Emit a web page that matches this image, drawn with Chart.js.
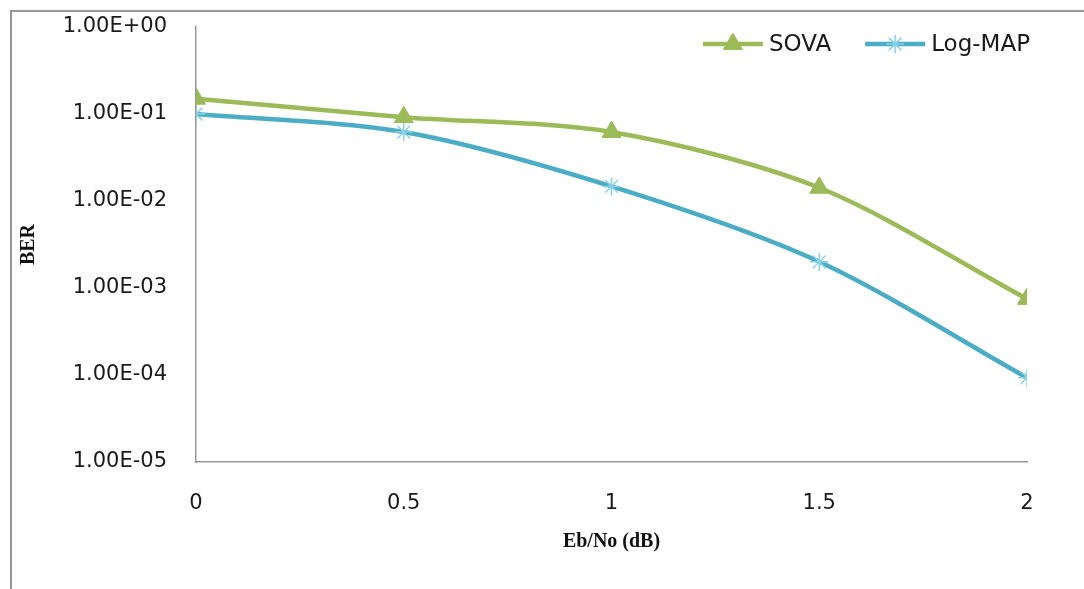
<!DOCTYPE html>
<html>
<head>
<meta charset="utf-8">
<script src="https://cdn.jsdelivr.net/npm/chart.js@4/dist/chart.umd.min.js"></script>
<style>
  html, body { margin: 0; padding: 0; background: #fff; }
  #wrap { position: relative; width: 1084px; height: 589px; }
  #frame { position: absolute; left: 10px; top: 10px; right: 0; bottom: 0;
           border-top: 2px solid #969696; border-left: 2px solid #969696; }
  canvas { position: absolute; left: 0; top: 0; }
</style>
</head>
<body>
<div id="wrap">
  <div id="frame"></div>
  <canvas id="myChart" width="1084" height="589"></canvas>
</div>
<script>
// data
var ebno = [0, 0.5, 1, 1.5, 2];
var sova = [0.15, 0.092, 0.062, 0.0142, 0.00075];
var logMap = [0.1, 0.062, 0.0147, 0.002, 0.000093];

var xTicks = [0, 0.5, 1, 1.5, 2];
var xTickLabels = ['0', '0.5', '1', '1.5', '2'];
var yTicks = [1e-5, 1e-4, 1e-3, 1e-2, 1e-1, 1];
var yTickLabels = ['1.00E-05', '1.00E-04', '1.00E-03', '1.00E-02', '1.00E-01', '1.00E+00'];

function points(ys) {
  return ebno.map(function(x, i) { return { x: x, y: ys[i] }; });
}

// legend drawn inside plot area: line + marker + text
var lineLegend = {
  id: 'lineLegend',
  afterDraw: function(chart) {
    var ctx = chart.ctx;
    var area = chart.chartArea;
    var lineLen = 60, gap = 6, itemGap = 34, y = 44;
    ctx.save();
    ctx.font = '23px "DejaVu Sans"';
    var sets = chart.data.datasets;
    var total = 0;
    sets.forEach(function(ds, i) {
      total += lineLen + gap + ctx.measureText(ds.label).width + (i > 0 ? itemGap : 0);
    });
    var x = area.right + 3 - total;
    sets.forEach(function(ds, i) {
      if (i > 0) x += itemGap;
      ctx.strokeStyle = ds.borderColor;
      ctx.lineWidth = ds.borderWidth;
      ctx.beginPath();
      ctx.moveTo(x, y);
      ctx.lineTo(x + lineLen, y);
      ctx.stroke();
      ctx.fillStyle = ds.pointBackgroundColor;
      ctx.strokeStyle = ds.pointBorderColor;
      ctx.lineWidth = ds.pointBorderWidth;
      Chart.helpers.drawPoint(ctx, {
        pointStyle: ds.pointStyle, radius: ds.pointRadius, rotation: 0, borderWidth: ds.pointBorderWidth
      }, x + lineLen / 2, y);
      x += lineLen + gap;
      ctx.fillStyle = '#1a1a1a';
      ctx.textBaseline = 'middle';
      ctx.textAlign = 'left';
      ctx.fillText(ds.label, x, y + 1);
      x += ctx.measureText(ds.label).width;
    });
    ctx.restore();
  }
};

var ctx = document.getElementById('myChart').getContext('2d');

var myChart = new Chart(ctx, {
  type: 'line',
  data: {
    datasets: [{
      label: 'SOVA',
      data: points(sova),
      borderColor: '#9bbb59',
      borderWidth: 4.5,
      tension: 0.3,
      pointStyle: 'triangle',
      pointRadius: 11,
      pointBackgroundColor: '#9bbb59',
      pointBorderColor: '#9bbb59',
      pointBorderWidth: 1
    }, {
      label: 'Log-MAP',
      data: points(logMap),
      borderColor: '#4bacc6',
      borderWidth: 4.5,
      tension: 0.3,
      pointStyle: 'star',
      pointRadius: 9,
      pointBackgroundColor: '#8ad3e6',
      pointBorderColor: '#8ad3e6',
      pointBorderWidth: 1.5
    }]
  },
  options: {
    responsive: false,
    animation: false,
    layout: { padding: { left: 10, top: 27, right: 57, bottom: 0 } },
    plugins: {
      legend: { display: false },
      tooltip: { enabled: false }
    },
    scales: {
      x: {
        type: 'linear',
        min: 0,
        max: 2,
        afterBuildTicks: function(scale) {
          scale.ticks = xTicks.map(function(v) { return { value: v }; });
        },
        afterFit: function(scale) { scale.height = 127; },
        grid: { display: false, drawTicks: false },
        border: { display: true, color: '#969696', width: 1.5 },
        ticks: {
          padding: 29,
          color: '#1a1a1a',
          font: { family: 'DejaVu Sans', size: 21 },
          maxRotation: 0,
          callback: function(value) {
            var i = xTicks.indexOf(value);
            return i >= 0 ? xTickLabels[i] : '';
          }
        },
        title: {
          display: true,
          text: 'Eb/No (dB)',
          color: '#111',
          font: { family: 'Liberation Serif', size: 20, weight: 'bold' },
          padding: { top: 0, bottom: 35 }
        }
      },
      y: {
        type: 'logarithmic',
        min: 1e-5,
        max: 1,
        afterBuildTicks: function(scale) {
          scale.ticks = yTicks.map(function(v) { return { value: v }; });
        },
        afterFit: function(scale) {
          scale.width = 186;
          // keep the big label padding from pushing the plot area down
          scale.paddingTop = 0;
          scale.paddingBottom = 0;
        },
        grid: { display: false, drawTicks: false },
        border: { display: true, color: '#969696', width: 1.5 },
        ticks: {
          padding: 29,
          color: '#1a1a1a',
          font: { family: 'DejaVu Sans', size: 21 },
          callback: function(value) {
            var i = yTicks.indexOf(value);
            return i >= 0 ? yTickLabels[i] : '';
          }
        },
        title: {
          display: true,
          text: 'BER',
          color: '#111',
          font: { family: 'Liberation Serif', size: 20, weight: 'bold' },
          padding: { top: 7, bottom: 0 }
        }
      }
    }
  },
  plugins: [lineLegend]
});
</script>
</body>
</html>
